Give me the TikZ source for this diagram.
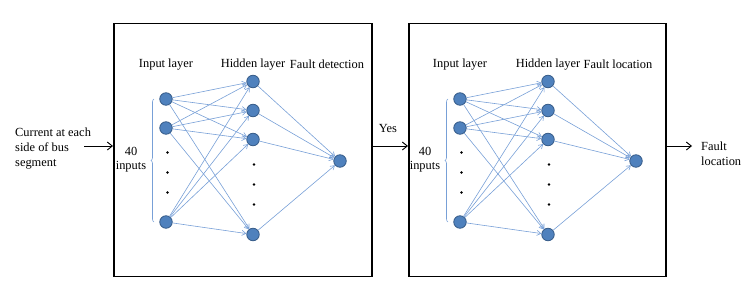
\documentclass[tikz,border=0pt]{standalone}
\usepackage{fontspec}
\setmainfont{Liberation Serif}
\usetikzlibrary{arrows.meta,decorations.pathreplacing}
\definecolor{nfill}{RGB}{79,129,189}
\definecolor{nline}{RGB}{56,93,138}
\definecolor{eline}{RGB}{120,160,215}
\tikzset{
  neuron/.style={circle,fill=nfill,draw=nline,line width=0.8pt,minimum size=12.5pt,inner sep=0pt},
  edge/.style={draw=eline,line width=0.6pt,-{Straight Barb[length=4pt,width=5pt]}},
  lbl/.style={font=\fontsize{12.4}{14.6}\selectfont,inner sep=0pt},
  frame/.style={draw=black,line width=1.6pt},
  flow/.style={draw=black,line width=0.9pt,-{Straight Barb[length=5pt,width=8pt]}},
  dotn/.style={circle,fill=black,minimum size=2.8pt,inner sep=0pt},
}
\begin{document}
\begin{tikzpicture}[x=1pt,y=-1pt]
\useasboundingbox (0,0) rectangle (756,292);
% frames
\node[frame,minimum width=258pt,minimum height=253pt,anchor=north west] (box1) at (113,22.5) {};
\node[frame,minimum width=257pt,minimum height=253pt,anchor=north west] (box2) at (408,22.5) {};
\coordinate (inend) at (84,146);
\node[lbl,anchor=west,align=left] (cur) at (15,148.5) {Current at each\\side of bus\\segment};
\coordinate (box1in) at (113,146);
\coordinate (box1out) at (371,146);
\coordinate (box2in) at (408,146);
\coordinate (box2out) at (665,146);
\coordinate (outend) at (692,146);
\draw[flow] (inend) -- (box1in);
\draw[flow] (box1out) -- (box2in);
\draw[flow] (box2out) -- (outend);
\node[lbl] (yes) at (388,128.5) {Yes};
\node[lbl,anchor=west,align=left] (floc) at (701,153.5) {Fault\\location};
% networks
\foreach \net/\ix/\hx/\ox/\olab/\olx in {A/166/253/340/Fault detection/327, B/460/548/636/Fault location/618}{
  \node[lbl] (\net title1) at (\ix,64.5) {Input layer};
  \node[lbl] (\net title2) at (\hx,64.5) {Hidden layer};
  \node[lbl] (\net title3) at (\olx,64.5) {\olab};
  \node[neuron] (\net i1) at (\ix,99) {};
  \node[neuron] (\net i2) at (\ix,128) {};
  \node[neuron] (\net i3) at (\ix,222) {};
  \node[neuron] (\net h1) at (\hx,81.5) {};
  \node[neuron] (\net h2) at (\hx,110.5) {};
  \node[neuron] (\net h3) at (\hx,139.5) {};
  \node[neuron] (\net h4) at (\hx,234.5) {};
  \node[neuron] (\net o) at (\ox,161) {};
  \foreach \yy [count=\k] in {152.5,172.5,192.5}{
    \node[dotn] (\net di\k) at (\ix+1.5,\yy) {};
  }
  \foreach \yy [count=\k] in {164.5,184.5,204.5}{
    \node[dotn] (\net dh\k) at (\hx+1,\yy) {};
  }
  \foreach \a in {1,2,3}{
    \foreach \b in {1,2,3,4}{
      \draw[edge] (\net i\a) -- (\net h\b);
    }
  }
  \foreach \b in {1,2,3,4}{
    \draw[edge] (\net h\b) -- (\net o);
  }
  \coordinate (\net bb) at (\ix-12,222);
  \coordinate (\net bt) at (\ix-12,99);
  \draw[draw=eline,line width=0.6pt,decorate,decoration={brace,amplitude=3pt}] (\net bb) -- (\net bt);
  \node[lbl,align=center] (\net forty) at (\ix-35,159.5) {40\\inputs};
}
\end{tikzpicture}
\end{document}
